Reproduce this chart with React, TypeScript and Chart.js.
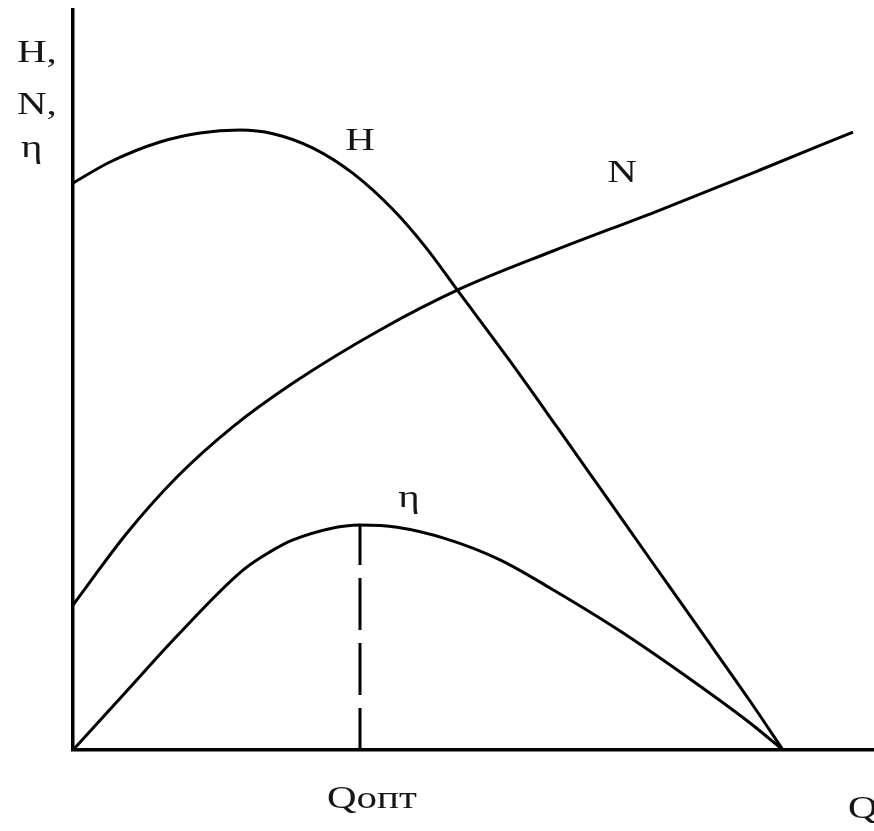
import { useEffect, useRef } from "react";
import { Chart, registerables } from "chart.js";

Chart.register(...registerables);

// Flow Q (relative units, 0..100 across the plot width)
const qH = [0, 4.62, 10.86, 15.86, 20.85, 24.97, 29.96, 34.96, 39.95, 44.19, 48.06, 54.18, 60.42, 65.79, 72.03, 78.28, 84.52, 88.64];
// Head H (relative units, 0..100 across the plot height)
const hValues = [76.62, 79.46, 82.16, 83.38, 83.78, 83.28, 81.34, 77.92, 73.03, 67.72, 62.03, 53.11, 43.65, 35.41, 25.81, 16.22, 6.62, 0];

const qN = [0, 6.74, 12.98, 19.98, 27.47, 38.33, 48.31, 59.93, 73.28, 85.77, 97.38];
// Power N
const nValues = [19.59, 29.32, 36.89, 43.7, 49.59, 56.76, 62.3, 67.43, 72.97, 78.38, 83.51];

const qEta = [0, 6.74, 12.98, 21.22, 24.59, 27.47, 35.83, 40.45, 46.69, 53.31, 59.55, 67.92, 76.15, 84.52, 88.64];
// Efficiency η
const etaValues = [0, 8.0, 15.4, 24.3, 26.77, 28.4, 30.4, 30.1, 28.5, 25.7, 21.9, 16.35, 10.27, 3.65, 0];

// Optimal point
const qOpt = 35.83;
const etaMax = 30.4;

// Labels
const curveLabelTexts = ["H", "N", "η"];
const curveLabelQ = [34.0, 66.7, 40.6];
const curveLabelV = [81.1, 76.8, 32.8];
const yAxisLabelLines = ["H,", "N,", "η"];
const xOptLabel = "Qопт";
const xAxisLabel = "Q";

const STRETCH = 1.28;

const labelPlugin = {
  id: "pumpLabels",
  afterDraw(chart: any) {
    const { ctx, chartArea } = chart;
    const xs = chart.scales.x;
    const ys = chart.scales.y;
    ctx.save();
    ctx.fillStyle = "#161616";
    ctx.font = "32px 'Liberation Serif', 'Times New Roman', serif";
    ctx.textBaseline = "alphabetic";
    ctx.textAlign = "left";
    const draw = (text: string, px: number, py: number) => {
      ctx.save();
      ctx.translate(px, py);
      ctx.scale(STRETCH, 1);
      ctx.fillText(text, 0, 0);
      ctx.restore();
    };
    curveLabelTexts.forEach((t, i) => {
      draw(t, xs.getPixelForValue(curveLabelQ[i]), ys.getPixelForValue(curveLabelV[i]));
    });
    const yOffsets = [52, 104, 147];
    yAxisLabelLines.forEach((t, i) => {
      draw(t, chartArea.left - 56 + (i === 2 ? 4 : 0), chartArea.top + yOffsets[i]);
    });
    draw(xOptLabel, xs.getPixelForValue(qOpt) - 33, chartArea.bottom + 58);
    draw(xAxisLabel, chartArea.right - 26, chartArea.bottom + 68);
    ctx.restore();
  },
};

export default function App() {
  const ref = useRef<HTMLCanvasElement | null>(null);

  useEffect(() => {
    document.body.style.margin = "0";
    const canvas = ref.current;
    if (!canvas) return;
    const line = (xsArr: number[], ysArr: number[]) =>
      xsArr.map((q, i) => ({ x: q, y: ysArr[i] }));
    const common = {
      borderColor: "#000",
      borderWidth: 3,
      pointRadius: 0,
      fill: false,
      cubicInterpolationMode: "monotone" as const,
      clip: false as any,
    };
    const chart = new Chart(canvas, {
      type: "line",
      data: {
        datasets: [
          { ...common, label: "H", data: line(qH, hValues) },
          { ...common, label: "N", data: line(qN, nValues) },
          { ...common, label: "η", data: line(qEta, etaValues) },
          {
            label: "Qопт",
            data: [
              { x: qOpt, y: etaMax },
              { x: qOpt, y: 0 },
            ],
            borderColor: "#000",
            borderWidth: 3,
            pointRadius: 0,
            borderDash: [52, 13],
            borderDashOffset: 12,
            tension: 0,
          },
        ],
      },
      options: {
        animation: false,
        responsive: false,
        maintainAspectRatio: false,
        events: [],
        layout: {
          autoPadding: false,
          padding: { left: 73, top: 10, right: 0, bottom: 81 },
        },
        plugins: {
          legend: { display: false },
          tooltip: { enabled: false },
          title: { display: false },
        },
        scales: {
          x: {
            type: "linear",
            min: 0,
            max: 100,
            ticks: { display: false },
            grid: { display: false, drawTicks: false },
            border: { display: true, color: "#000", width: 3.5 },
          },
          y: {
            type: "linear",
            min: 0,
            max: 100,
            ticks: { display: false },
            grid: { display: false, drawTicks: false },
            border: { display: true, color: "#000", width: 3.5 },
          },
        },
      },
      plugins: [labelPlugin],
    });
    return () => chart.destroy();
  }, []);

  return (
    <div style={{ position: "fixed", left: 0, top: 0, width: 874, height: 831, background: "#fff" }}>
      <canvas ref={ref} width={874} height={831} style={{ width: 874, height: 831, display: "block" }} />
    </div>
  );
}
